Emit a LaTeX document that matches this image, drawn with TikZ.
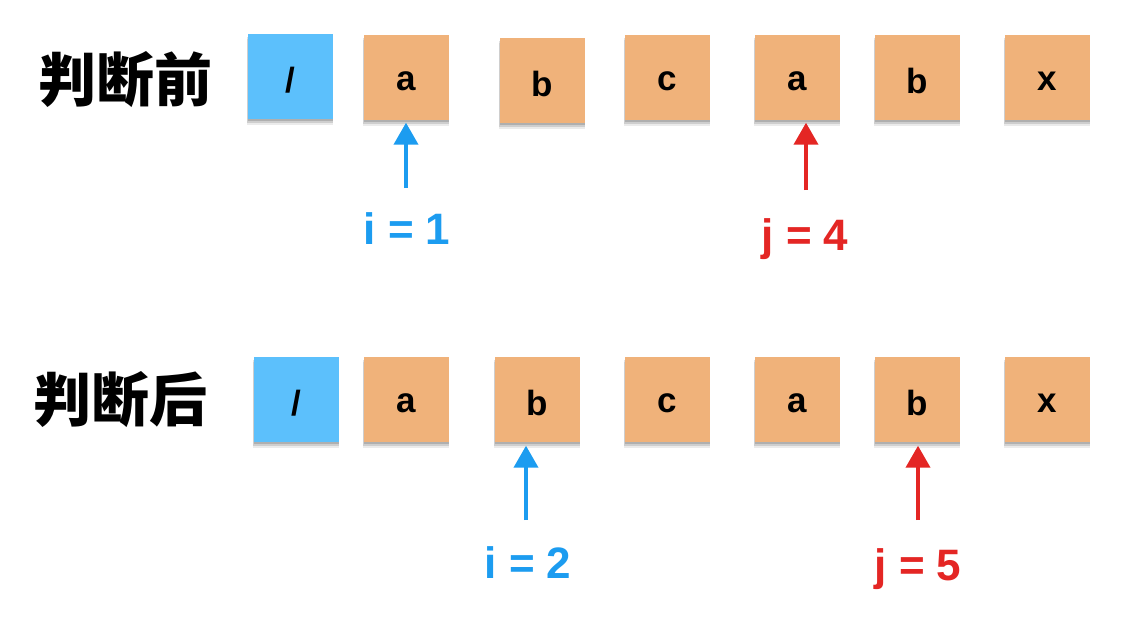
\documentclass[tikz,border=0pt]{standalone}
\usepackage{fontspec}
\setmainfont{Liberation Sans}
\newfontfamily\cjk{Noto Sans CJK SC}
\usetikzlibrary{arrows.meta,shadows}
\definecolor{boxblue}{RGB}{92,192,252}
\definecolor{boxorange}{RGB}{240,178,122}
\definecolor{iblue}{RGB}{28,156,240}
\definecolor{jred}{RGB}{228,38,36}
\tikzset{
  cell/.style={minimum width=85pt, minimum height=85pt, inner sep=0pt,
    font=\fontsize{35}{35}\selectfont\bfseries,
    general shadow={fill=black, opacity=0.08, shadow xshift=0pt, shadow yshift=-6pt, shadow scale=1.02},
    general shadow={fill=black, opacity=0.12, shadow xshift=0pt, shadow yshift=-4pt, shadow scale=1.01},
    general shadow={fill=black, opacity=0.15, shadow xshift=0pt, shadow yshift=-2pt}},
  ocell/.style={cell, fill=boxorange},
  bcell/.style={cell, fill=boxblue},
  title/.style={font=\cjk\bfseries\fontsize{58}{58}\selectfont, inner sep=0pt},
  ptrlabel/.style={anchor=base, inner sep=0pt, font=\fontsize{44}{44}\selectfont\bfseries},
  iarrow/.style={draw=iblue, line width=4pt, -{Triangle[width=24pt,length=22pt]}},
  jarrow/.style={draw=jred, line width=4pt, -{Triangle[width=24pt,length=22pt]}}
}
\newcommand{\lw}[1]{\raisebox{-4pt}[\height][\depth]{#1}}
\begin{document}
\begin{tikzpicture}[x=1pt,y=-1pt]
\useasboundingbox (0,0) rectangle (1140,640);
\fill[white] (0,0) rectangle (1140,640);
% before
\node[title] (t1) at (125,80) {判断前};
\node[bcell] (p0) at (290,76) {\lw{/}};
\node[ocell] (p1) at (406,77) {\lw{a}};
\node[ocell] (p2) at (542,80) {\lw{b}};
\node[ocell] (p3) at (667,77) {\lw{c}};
\node[ocell] (p4) at (797,77) {\lw{a}};
\node[ocell] (p5) at (917,77) {\lw{b}};
\node[ocell] (p6) at (1047,77) {\lw{x}};
\coordinate (si1) at (406,188);
\coordinate (sj1) at (806,190);
\draw[iarrow] (si1) -- ([yshift=-3pt]p1.south -| si1);
\draw[jarrow] (sj1) -- ([yshift=-3pt]p4.south -| sj1);
\node[ptrlabel, text=iblue] (li1) at (407,244) {i = 1};
\node[ptrlabel, text=jred] (lj1) at (805,250) {j = 4};
% after
\node[title] (t2) at (120,400) {判断后};
\node[bcell] (q0) at (296,399) {\lw{/}};
\node[ocell] (q1) at (406,399) {\lw{a}};
\node[ocell] (q2) at (537,399) {\lw{b}};
\node[ocell] (q3) at (667,399) {\lw{c}};
\node[ocell] (q4) at (797,399) {\lw{a}};
\node[ocell] (q5) at (917,399) {\lw{b}};
\node[ocell] (q6) at (1047,399) {\lw{x}};
\coordinate (si2) at (526,520);
\coordinate (sj2) at (918,520);
\draw[iarrow] (si2) -- ([yshift=-4pt]q2.south -| si2);
\draw[jarrow] (sj2) -- ([yshift=-4pt]q5.south -| sj2);
\node[ptrlabel, text=iblue] (li2) at (528,578) {i = 2};
\node[ptrlabel, text=jred] (lj2) at (918,580) {j = 5};
\end{tikzpicture}
\end{document}
